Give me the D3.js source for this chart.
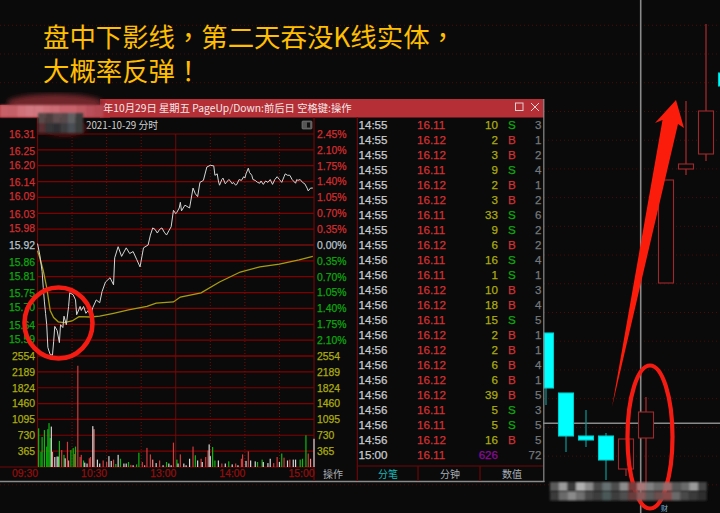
<!DOCTYPE html>
<html>
<head>
<meta charset="utf-8">
<script src="https://cdn.jsdelivr.net/npm/d3@7"></script>
<style>
  html, body { margin: 0; padding: 0; background: #0a0a0a; }
  svg { display: block; }
  text { font-family: "Liberation Sans", "Noto Sans CJK SC", sans-serif; }
  .cjk { font-family: "Noto Sans CJK SC", sans-serif; }
  .domain { display: none; }
</style>
</head>
<body>
<svg id="chart" width="720" height="513"></svg>
<script>
// intraday price
const priceMinutes = [0,2,4,5,6,7,8,9,11,13,14,15,17,19,20,22,23,25,27,28,31,33,34,37,38,40,42,44,46,48,51,54,56,59,63,66,67,70,73,77,80,83,86,89,92,96,98,100,102,104,106,108,110,112,114,116,118,120,121,123,124,125,128,132,135,137,139,141,144,147,150,153,154,156,157,158,160,161,163,164,166,167,169,170,172,173,175,177,179,180,181,183,184,186,187,189,191,193,194,196,198,200,202,204,206,208,210,212,214,215,217,219,221,224,225,226,228,230,232,234,235,237,239];
const priceValues = [15.925,15.885,15.827,15.77,15.72,15.68,15.64,15.56,15.535,15.533,15.58,15.634,15.62,15.577,15.64,15.63,15.67,15.64,15.704,15.752,15.745,15.727,15.675,15.704,15.69,15.704,15.68,15.69,15.67,15.70,15.727,15.717,15.756,15.79,15.805,15.78,15.875,15.914,15.88,15.91,15.89,15.897,15.87,15.843,15.91,15.92,15.955,15.98,15.975,15.962,15.975,15.98,15.965,15.955,15.97,15.984,16.042,16.03,16.035,16.05,16.07,16.04,16.06,16.05,16.12,16.10,16.09,16.14,16.147,16.194,16.20,16.198,16.165,16.17,16.145,16.13,16.15,16.155,16.135,16.14,16.15,16.147,16.135,16.14,16.13,16.133,16.15,16.147,16.16,16.155,16.17,16.19,16.175,16.165,16.15,16.147,16.14,16.137,16.145,16.133,16.145,16.14,16.15,16.133,16.15,16.16,16.15,16.14,16.16,16.17,16.165,16.165,16.15,16.137,16.15,16.147,16.15,16.14,16.135,16.12,16.11,16.12,16.12];
const avgMinutes = [0,2,5,8,11,14,18,23,30,36,46,54,66,79,95,103,118,124,142,158,176,193,210,227,239];
const avgValues = [15.90,15.875,15.83,15.77,15.69,15.665,15.65,15.647,15.653,15.668,15.667,15.67,15.68,15.692,15.704,15.716,15.72,15.737,15.752,15.79,15.825,15.843,15.853,15.868,15.88];

// minute volume: minute, size, colour class
const volMinutes = [1,3,4,6,8,9,10,11,12,13,15,17,18,19,21,23,24,26,27,29,31,32,33,35,37,38,40,41,43,45,46,48,49,52,54,57,60,62,64,66,68,70,72,75,77,79,81,83,86,88,91,93,95,98,100,103,106,109,112,114,116,118,121,122,124,127,129,132,135,137,139,142,143,146,148,149,150,152,154,157,160,163,166,169,172,174,177,178,181,183,185,189,191,195,196,200,202,205,208,210,212,214,217,219,222,224,228,230,233,235,237,240];
const volValues = [890,350,690,850,470,870,1010,665,930,350,230,240,240,600,390,280,200,580,150,390,435,300,470,2330,230,280,150,100,80,200,230,940,870,170,80,150,115,250,140,170,70,280,190,80,80,115,50,40,60,330,115,40,440,290,170,90,150,40,115,80,40,560,170,80,290,80,40,190,470,270,150,190,115,230,380,520,250,460,150,150,80,80,130,60,80,40,190,290,140,360,150,130,115,170,115,90,190,90,230,115,310,215,150,170,170,170,170,190,730,310,190,650];
const volKinds = ['g','g','g','g','g','g','g','g','w','p','w','w','w','g','r','g','w','r','p','g','g','r','g','r','r','r','g','w','w','r','r','w','p','w','w','r','r','w','w','r','g','w','g','w','w','g','r','w','g','g','r','p','r','r','p','w','r','w','g','w','w','r','g','w','r','w','w','w','r','g','w','r','w','r','r','w','w','g','g','w','r','w','g','w','r','w','r','r','w','r','w','w','g','g','w','w','w','r','r','w','g','r','w','r','w','w','g','g','g','r','p','w'];

// axis ticks
const priceTicks = [16.31,16.25,16.20,16.14,16.09,16.03,15.98,15.92,15.86,15.81,15.75,15.70,15.64,15.59];
const pctTicks = [2.45,2.10,1.75,1.40,1.05,0.70,0.35,0,-0.35,-0.70,-1.05,-1.40,-1.75,-2.10];
const volTicks = [2554,2189,1824,1460,1095,730,365];
const timeTicks = [0,60,120,180,240];
const timeLabels = ['09:30','10:30','13:00','14:00','15:00'];
const minuteGrid = [30,60,90,120,150,180,210];

// tick list
const tradeTimes = ['14:55','14:55','14:55','14:55','14:55','14:55','14:55','14:55','14:55','14:56','14:56','14:56','14:56','14:56','14:56','14:56','14:56','14:56','14:56','14:56','14:56','14:56','15:00'];
const tradePrices = ['16.11','16.12','16.12','16.11','16.12','16.12','16.11','16.11','16.12','16.11','16.11','16.12','16.12','16.11','16.12','16.12','16.12','16.12','16.12','16.11','16.11','16.12','16.11'];
const tradeVols = [10,2,3,9,2,3,33,9,6,16,1,10,18,15,2,2,6,6,39,5,5,16,626];
const tradeSides = ['S','B','B','S','B','B','S','S','B','S','S','B','B','S','B','B','B','B','B','S','S','B',''];
const tradeCounts = [3,1,2,4,1,2,6,2,2,4,1,3,4,5,1,1,4,1,5,3,5,5,72];

// daily candles on the right
const candleSlots = [0,1,2,3,4,5,6,7,8,9];
const candleOpen = [16.90,16.30,15.87,15.87,15.54,15.85,17.40,18.54,18.69,19.50];
const candleClose = [16.35,15.87,15.83,15.63,15.84,16.11,18.43,18.59,19.12,19.37];
const candleHigh = [16.90,16.30,16.13,15.90,15.84,16.26,18.43,19.22,19.99,19.50];
const candleLow = [16.18,15.71,15.76,15.43,15.47,15.33,17.40,18.48,18.62,19.37];

const svg = d3.select('#chart');
const BG = '#0a0a0a', GRID = '#800000', FRAME = '#6e0608';

// ---- daily chart behind the window
const dayX = d3.scaleLinear().domain([0, 9]).range([546, 726]);
const dayY = d3.scaleLinear().domain([15.10, 20.23]).range([513, 0]);
const bw = 7.5;

svg.append('g').selectAll('line').data(d3.range(19.977, 15.3, -0.2872)).join('line')
  .attr('x1', 0).attr('x2', 720)
  .attr('y1', d => dayY(d)).attr('y2', d => dayY(d))
  .attr('stroke', '#4a0c0c').attr('stroke-dasharray', '1,3');

svg.append('line').attr('x1', 640.7).attr('x2', 640.7).attr('y1', 0).attr('y2', 513)
  .attr('stroke', '#8a8a8a').attr('stroke-width', 1.6);
svg.append('line').attr('x1', 543).attr('x2', 720).attr('y1', dayY(15.997)).attr('y2', dayY(15.997))
  .attr('stroke', '#8a8a8a').attr('stroke-width', 1.4);

const candle = svg.append('g').selectAll('g').data(candleSlots).join('g');
const isUp = i => candleClose[i] > candleOpen[i];
candle.append('line')
  .attr('x1', i => dayX(i)).attr('x2', i => dayX(i))
  .attr('y1', i => dayY(candleHigh[i])).attr('y2', i => dayY(candleLow[i]))
  .attr('stroke', i => isUp(i) ? '#a0282c' : '#0c8c8c').attr('stroke-width', 1.3);
candle.append('rect')
  .attr('x', i => dayX(i) - (i === 0 ? 2 : bw))
  .attr('width', i => i === 0 ? bw + 2 : bw * 2)
  .attr('y', i => dayY(Math.max(candleOpen[i], candleClose[i])))
  .attr('height', i => Math.abs(dayY(candleOpen[i]) - dayY(candleClose[i])))
  .attr('fill', i => isUp(i) ? BG : '#00ffff')
  .attr('stroke', i => isUp(i) ? '#a0282c' : '#0cc')
  .attr('stroke-width', 1.1);

// ---- quote window
svg.append('rect').attr('x', 0).attr('y', 99).attr('width', 543).attr('height', 382).attr('fill', BG);
svg.append('rect').attr('x', 0).attr('y', 105).attr('width', 110).attr('height', 12.5).attr('fill', '#b52f36');
svg.append('rect').attr('x', 100).attr('y', 99).attr('width', 444).attr('height', 18.5).attr('fill', '#b52f36');
svg.append('line').attr('x1', 0).attr('x2', 544.5).attr('y1', 481.5).attr('y2', 481.5).attr('stroke', '#8a8a8a').attr('stroke-width', 1.6);
svg.append('line').attr('x1', 543.8).attr('x2', 543.8).attr('y1', 99).attr('y2', 482).attr('stroke', '#8a8a8a').attr('stroke-width', 1.2);

svg.append('text').attr('class', 'cjk').attr('x', 103).attr('y', 111.5)
  .attr('fill', '#f4e8e8').attr('font-size', 10.3).text('年10月29日 星期五 PageUp/Down:前后日 空格键:操作');
svg.append('rect').attr('x', 515.5).attr('y', 103).attr('width', 7.5).attr('height', 7.5)
  .attr('fill', 'none').attr('stroke', '#e6d0d0');
svg.append('path').attr('d', 'M531,103 L539,111 M539,103 L531,111').attr('stroke', '#e6d0d0').attr('fill', 'none');
svg.append('text').attr('class', 'cjk').attr('x', 86).attr('y', 129)
  .attr('fill', '#d0d0d0').attr('font-size', 9.8).text('2021-10-29 分时');
svg.append('rect').attr('x', 302).attr('y', 121).attr('width', 10).attr('height', 8).attr('rx', 1)
  .attr('fill', '#555').attr('stroke', '#888').attr('stroke-width', 0.6);
svg.append('rect').attr('x', 307).attr('y', 122.5).attr('width', 3).attr('height', 5).attr('fill', '#111');

// ---- scales for the minute chart
const x = d3.scaleLinear().domain([0, 240]).range([37.5, 314]);
const priceY = d3.scaleLinear().domain([15.53, 16.31]).range([356, 134]);
const pctY = d3.scaleLinear().domain([-2.45, 2.45]).range([356, 134]);
const volY = d3.scaleLinear().domain([0, 2554]).range([467, 356]);

// grid
svg.append('g').selectAll('line').data(pctTicks.concat([-2.45])).join('line')
  .attr('x1', 37.5).attr('x2', 314)
  .attr('y1', d => pctY(d)).attr('y2', d => pctY(d))
  .attr('stroke', d => d === 0 ? '#a81010' : GRID).attr('stroke-width', 1.2);
svg.append('g').selectAll('line').data(volTicks).join('line')
  .attr('x1', 37.5).attr('x2', 314)
  .attr('y1', d => volY(d)).attr('y2', d => volY(d))
  .attr('stroke', GRID).attr('stroke-width', 1.2);
svg.append('g').selectAll('line').data(minuteGrid).join('line')
  .attr('x1', d => x(d)).attr('x2', d => x(d)).attr('y1', 134).attr('y2', 467)
  .attr('stroke', '#7a0a0a').attr('stroke-dasharray', d => d === 120 ? null : '1,2')
  .attr('stroke-width', d => d === 120 ? 0.9 : 1);
svg.append('path').attr('fill', 'none').attr('stroke', FRAME).attr('stroke-width', 1.2)
  .attr('d', 'M37.5,117 V467 M314,117 V481 M357.3,117 V481 M0,467 H314 M357,466 H543 M418,466 V481 M480,466 V481');

// volume bars
const barColor = { g: '#0fb80f', r: '#d23a3c', p: '#f08a8a', w: '#d6d6d6' };
svg.append('g').selectAll('rect').data(volMinutes).join('rect')
  .attr('x', d => x(d) - 0.6).attr('width', 1.2)
  .attr('y', (d, i) => volY(volValues[i]))
  .attr('height', (d, i) => volY(0) - volY(volValues[i]))
  .attr('fill', (d, i) => barColor[volKinds[i]]);

// price and average lines
const line = d3.line().x(d => x(d[0])).y(d => priceY(d[1]));
svg.append('path').attr('fill', 'none').attr('stroke', '#a89c12').attr('stroke-width', 1.3)
  .attr('d', line(avgMinutes.map((m, i) => [m, avgValues[i]])));
svg.append('path').attr('fill', 'none').attr('stroke', '#d6d6d6').attr('stroke-width', 1)
  .attr('d', line(priceMinutes.map((m, i) => [m, priceValues[i]])));

// axes; a hairline stroke thickens the small labels like the screen font
const thicken = (sel, color) => sel.attr('fill', color).attr('stroke', color)
  .attr('stroke-width', 0.25).attr('font-size', 10.4);
const priceColor = d => d > 15.92 ? '#d42c2e' : d === 15.92 ? '#b8c2cc' : '#0ca80c';
svg.append('g').attr('transform', 'translate(37,0)')
  .call(d3.axisLeft(priceY).tickValues(priceTicks).tickSize(0).tickPadding(2).tickFormat(d3.format('.2f')))
  .call(g => thicken(g.selectAll('text'), priceColor));
svg.append('g').attr('transform', 'translate(37,0)')
  .call(d3.axisLeft(volY).tickValues(volTicks).tickSize(0).tickPadding(2).tickFormat(d3.format('d')))
  .call(g => thicken(g.selectAll('text'), '#acac10'));
svg.append('g').attr('transform', 'translate(314,0)')
  .call(d3.axisRight(pctY).tickValues(pctTicks).tickSize(0).tickPadding(3).tickFormat(d => Math.abs(d).toFixed(2) + '%'))
  .call(g => thicken(g.selectAll('text'), d => d > 0 ? '#d42c2e' : d === 0 ? '#b8c2cc' : '#0ca80c'));
svg.append('g').attr('transform', 'translate(314,0)')
  .call(d3.axisRight(volY).tickValues(volTicks).tickSize(0).tickPadding(3).tickFormat(d3.format('d')))
  .call(g => thicken(g.selectAll('text'), '#acac10'));
svg.append('g').attr('transform', 'translate(0,467)')
  .call(d3.axisBottom(x).tickValues(timeTicks).tickSize(0).tickPadding(3).tickFormat((d, i) => timeLabels[i]))
  .call(g => thicken(g.selectAll('text'), '#960c0c').attr('text-anchor', 'end'));

// ---- tick list
const rowY = d3.scaleLinear().domain([0, 22]).range([129, 459]);
const rows = svg.append('g').selectAll('g').data(tradeTimes).join('g')
  .attr('transform', (d, i) => `translate(0,${rowY(i)})`).attr('font-size', 11.6).attr('stroke-width', 0.25);
const cell = (px, color) => rows.append('text').attr('x', px).attr('fill', color).attr('stroke', color);
cell(358.5, '#c8ccd0').text(d => d);
cell(417, '#d43032').text((d, i) => tradePrices[i]);
cell(498, (d, i) => tradeVols[i] > 100 ? '#8a0a9a' : '#acac10').attr('text-anchor', 'end').text((d, i) => tradeVols[i]);
cell(508, (d, i) => tradeSides[i] === 'B' ? '#d43032' : '#0cac0c').text((d, i) => tradeSides[i]);
cell(541.5, '#74787c').attr('text-anchor', 'end').text((d, i) => tradeCounts[i]);

// bottom tabs
svg.append('g').attr('font-size', 10).attr('text-anchor', 'middle')
  .selectAll('text').data([['操作', 333, '#aab0b4'], ['分笔', 388, '#18b8b8'], ['分钟', 450, '#a8b0b8'], ['数值', 512, '#a8b0b8']]).join('text')
  .attr('class', 'cjk').attr('x', d => d[1]).attr('y', 477.5).attr('fill', d => d[2]).text(d => d[0]);

// ---- redaction blobs
const defs = svg.append('defs');
defs.append('filter').attr('id', 'soft').append('feGaussianBlur').attr('stdDeviation', 2.5);
defs.append('filter').attr('id', 'softer').append('feGaussianBlur').attr('stdDeviation', 0.9);

svg.append('ellipse').attr('cx', 55).attr('cy', 103).attr('rx', 48).attr('ry', 9)
  .attr('fill', '#70262a').attr('filter', 'url(#soft)');
svg.append('ellipse').attr('cx', 65).attr('cy', 128).attr('rx', 22).attr('ry', 9)
  .attr('fill', '#4e0e10').attr('filter', 'url(#soft)');

const pinkCells = ['#c86068','#c46068','#d07078','#d27880','#d27880','#ce7078','#cc6c74','#c8646c','#c8646c','#c05a62','#b8505a','#b54a52'];
svg.append('g').attr('filter', 'url(#softer)').selectAll('rect').data(pinkCells).join('rect')
  .attr('x', (d, i) => i * 8.6).attr('y', 105).attr('width', 8.8).attr('height', 12).attr('fill', d => d);

const darkCells = ['#5a4a4a','#4e3e3e','#5e4e50','#584a4c','#606064','#3c3c3c','#5a2e30','#363638','#2e2e30','#3c3e40','#4a5054','#3a3c3e'];
svg.append('g').attr('filter', 'url(#softer)').selectAll('rect').data(darkCells).join('rect')
  .attr('x', (d, i) => 38 + (i % 6) * 7.5).attr('y', (d, i) => 113 + Math.floor(i / 6) * 10)
  .attr('width', 7.7).attr('height', 10.2).attr('fill', d => d);

// ---- annotations; TC glyphs centre the full-width punctuation
const headline = (y, parts) => {
  const t = svg.append('text').attr('x', 43).attr('y', y).attr('fill', '#ffbe00')
    .attr('font-size', 26.4).attr('class', 'cjk');
  parts.forEach(p => t.append('tspan')
    .style('font-family', /[，！]/.test(p) ? '"Noto Sans CJK TC"' : '"Noto Sans CJK SC"').text(p));
};
headline(47, ['盘中下影线', '，', '第二天吞没K线实体', '，']);
headline(81, ['大概率反弹', '！']);

svg.append('ellipse').attr('cx', 58.5).attr('cy', 323).attr('rx', 34).attr('ry', 35.5)
  .attr('fill', 'none').attr('stroke', '#f41c12').attr('stroke-width', 4.6);
svg.append('ellipse').attr('cx', 650).attr('cy', 437).attr('rx', 22.5).attr('ry', 71.5)
  .attr('fill', 'none').attr('stroke', '#f41c12').attr('stroke-width', 4.2);
svg.append('path').attr('fill', '#fb1c0c')
  .attr('d', 'M612,407 L662.5,120 L655,123 L676,100 L684,128 L678,124 Z');

// bottom right mosaic
const mosaicTop = ['#5a5a5a','#9a9a9a','#3a3a3a','#b0b0b0','#8a8a8a','#4a4a4a','#667070','#4e4e4e','#8c8c8c','#7a3a3a','#a87878','#808080','#6a6a6a','#9a6a6a','#585858','#6a6a6a','#9a9a9a','#444444'];
const mosaicBottom = ['#3a3a3a','#6a6a6a','#8a8a8a','#707070','#4a4a4a','#3c3c3c','#4c5858','#3c3c3c','#505050','#6a3c3c','#8a5a5a','#5a5a5a','#6e4e4e','#8a4a4a','#6a6a6a','#4a4a4a','#3a3a3a','#2e2e2e'];
[mosaicTop, mosaicBottom].forEach((cells, row) => {
  svg.append('g').attr('filter', 'url(#softer)').selectAll('rect').data(cells).join('rect')
    .attr('x', (d, i) => 550 + i * 8.7).attr('y', 482 + row * 9.2)
    .attr('width', 8.9).attr('height', 9.4).attr('fill', d => d);
});
svg.append('text').attr('class', 'cjk').attr('x', 661).attr('y', 511).attr('font-size', 7)
  .attr('fill', '#7fb0d8').text('财');
</script>
</body>
</html>
